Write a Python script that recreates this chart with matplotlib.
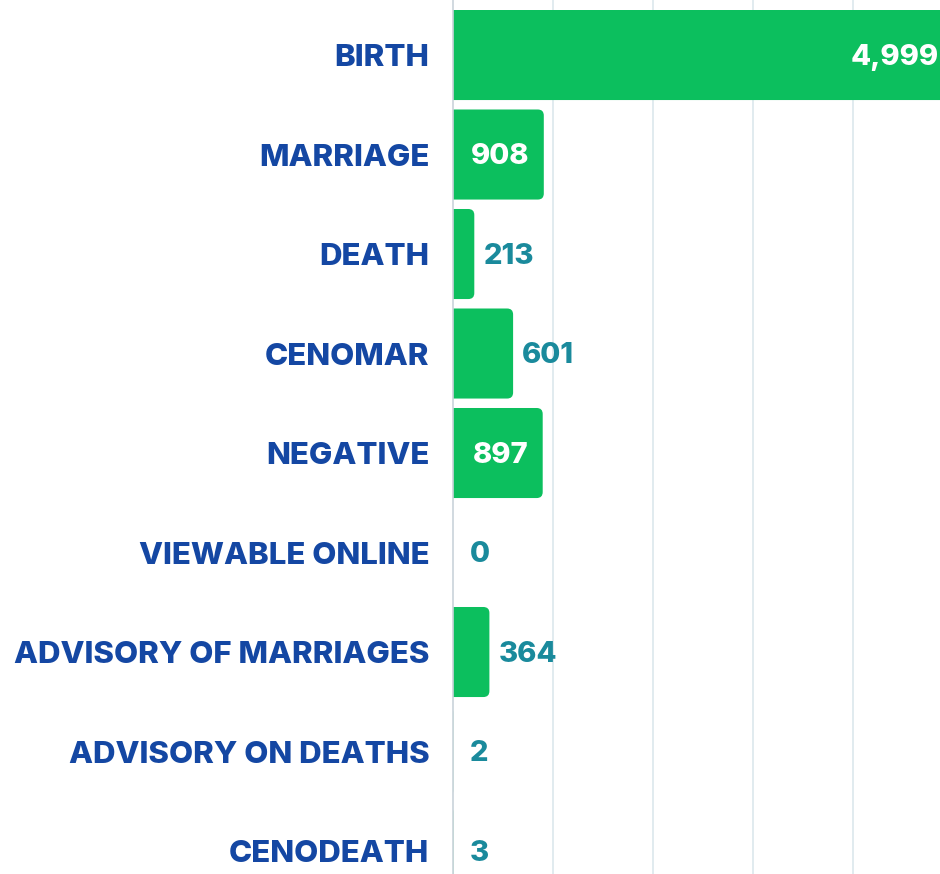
import matplotlib
matplotlib.use("Agg")
import matplotlib.pyplot as plt
from matplotlib.patches import FancyBboxPatch

categories = ["BIRTH", "MARRIAGE", "DEATH", "CENOMAR", "NEGATIVE",
              "VIEWABLE ONLINE", "ADVISORY OF MARRIAGES", "ADVISORY ON DEATHS", "CENODEATH"]
values = [4999, 908, 213, 601, 897, 0, 364, 2, 3]
inside = [True, True, False, False, True, False, False, False, False]

GREEN = "#0cbf5e"
BLUE = "#1447a3"
TEAL = "#1a8a9c"
GRID = "#dce7ec"

plt.rcParams['font.family'] = ['Inter', 'DejaVu Sans']

fig = plt.figure(figsize=(9.40, 8.74), dpi=100)
ax = fig.add_axes([453/940, 0, 487/940, 1])
ax.set_xlim(0, 4870)
ax.set_ylim(8.231, -0.553)

y = list(range(len(categories)))
bars = ax.barh(y, values, height=0.905, color=GREEN, zorder=2)

# rounded versions of the bars
xpp = 4870 / 487.0
ypp = (8.231 + 0.553) / 874.0
for b in bars:
    b.set_visible(False)
    x0, y0 = b.get_x(), b.get_y()
    w, h = b.get_width(), b.get_height()
    if w <= 0:
        continue
    r = 6 * xpp
    p = FancyBboxPatch((x0 - 80, y0), w + 80, h,
                       boxstyle=f"round,pad=0,rounding_size={r}",
                       mutation_aspect=ypp / xpp,
                       facecolor=GREEN, edgecolor="none", zorder=2)
    ax.add_patch(p)

for yi, v, ins in zip(y, values, inside):
    lab = f"{v:,}"
    if ins:
        ax.text(v - 145, yi + 0.02, lab, ha="right", va="center", color="white",
                fontsize=21, fontweight="heavy", zorder=3)
    else:
        ax.text(max(v + 90, 170), yi + 0.02, lab, ha="left", va="center", color=TEAL,
                fontsize=21, fontweight="heavy", zorder=3)

ax.set_xticks([1000, 2000, 3000, 4000])
ax.grid(axis="x", color=GRID, linewidth=1.2, zorder=0)
ax.tick_params(axis="x", length=0, labelbottom=False)
ax.set_yticks(y)
ax.set_yticklabels(categories, fontsize=22.5, fontweight="heavy", color=BLUE)
ax.tick_params(axis="y", length=0, pad=17)
for s in ["top", "right", "bottom"]:
    ax.spines[s].set_visible(False)
ax.spines["left"].set_color("#c9d3da")
ax.spines["left"].set_linewidth(1.2)
ax.spines["left"].set_zorder(4)

fig.savefig("out.png", dpi=100, facecolor="white")
